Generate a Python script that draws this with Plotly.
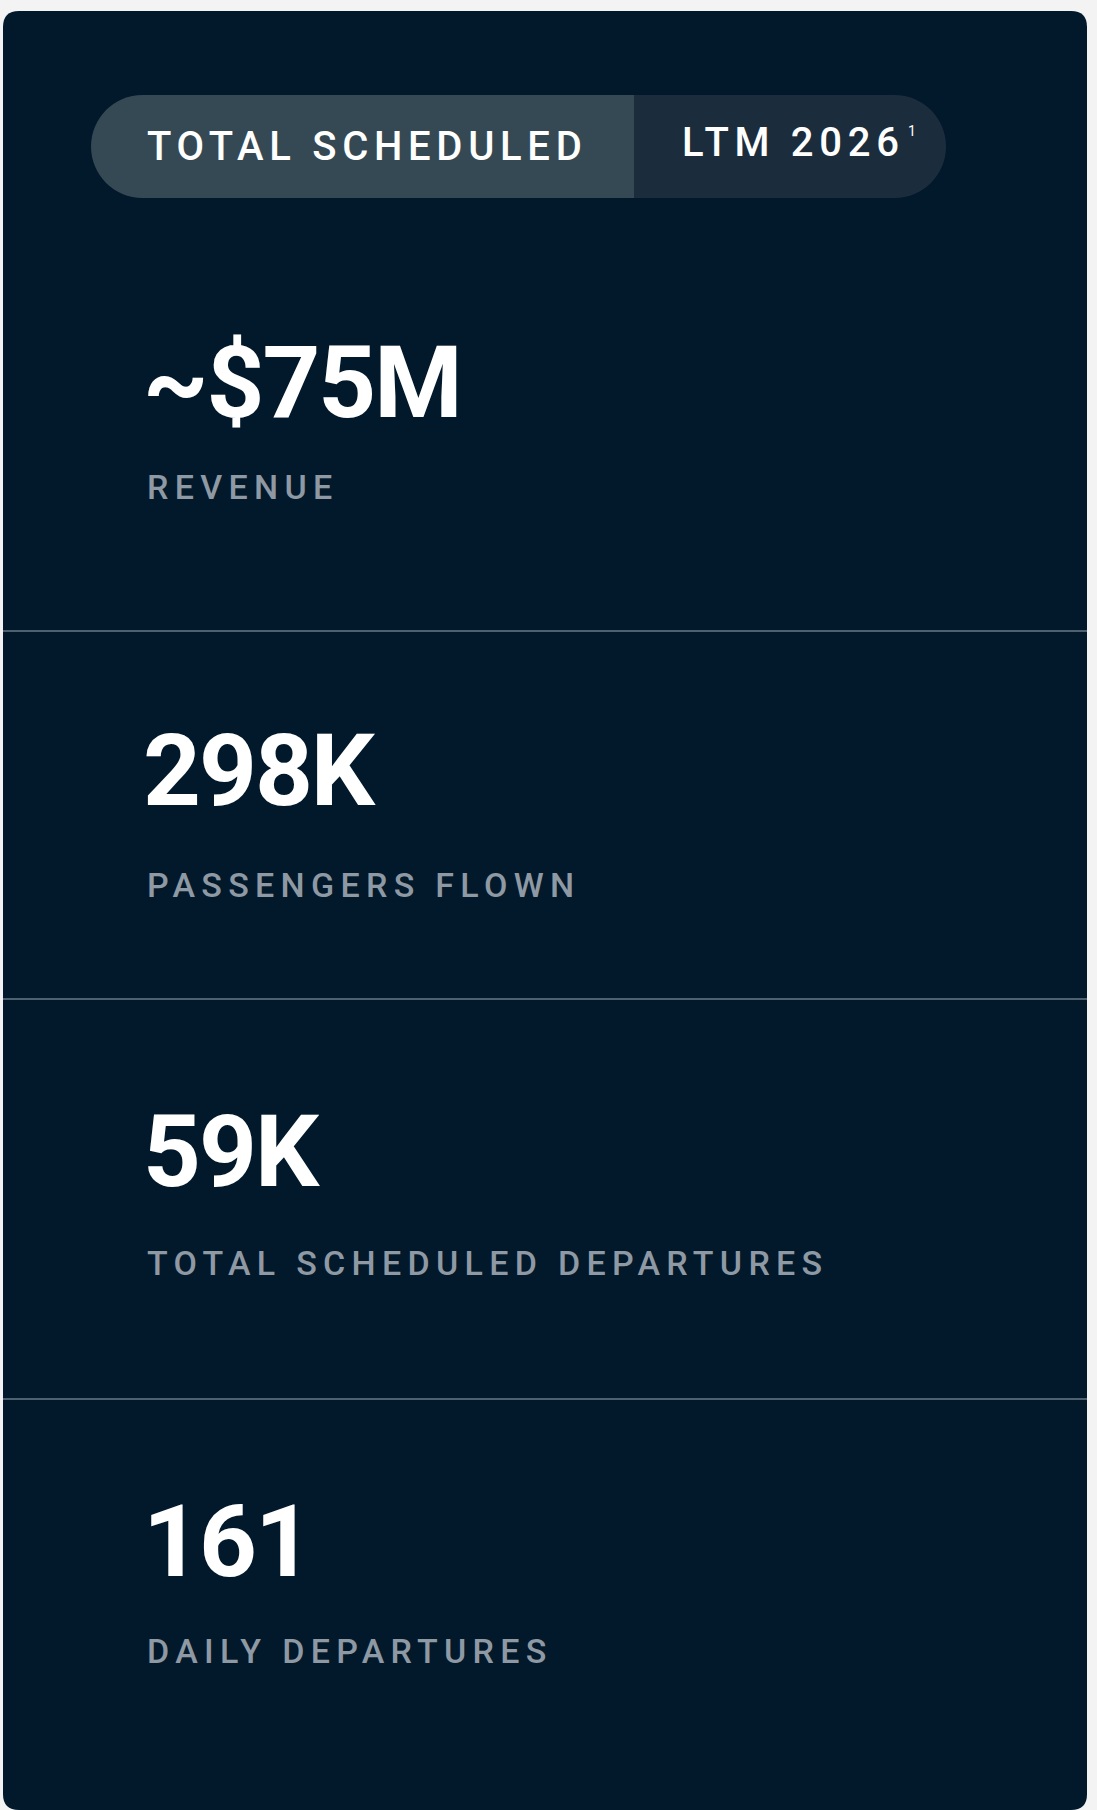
import plotly.graph_objects as go

# ---------------- data ----------------
values = ["~$75M", "298K", "59K", "161"]
labels = ["REVENUE", "PASSENGERS FLOWN", "TOTAL SCHEDULED DEPARTURES", "DAILY DEPARTURES"]
toggle_labels = ["TOTAL SCHEDULED", "LTM 2026"]
toggle_note = "1"

# ---------------- layout (pixels) ----------------
W, H = 1097, 1810
CARD = dict(x0=3, x1=1087, y0=11, y1=1810, r=16)
PILL = dict(x0=91, x1=946, y0=95, y1=198, split=634)
SEP_Y = [631, 999, 1399]
VALUE_Y = [392, 779.5, 1160.5, 1551]
LABEL_Y = [490.5, 888, 1266.5, 1654]
VALUE_X = 143
LABEL_X = 147
TOGGLE_X = [147, 682]
TOGGLE_Y = [149.5, 146]
NOTE_XY = (908, 132)

# ---------------- colours ----------------
PAGE_BG = "#f3f3f3"
CARD_BG = "#02182b"
PILL_ON = "#354954"
PILL_OFF = "#1b2d3c"
SEP_COL = "#4f606e"
LABEL_COL = "#8e99a3"
WHITE = "#ffffff"
FONT = "Roboto"


def card_path(c):
    x0, x1, y0, y1, r = c["x0"], c["x1"], c["y0"], c["y1"], c["r"]
    return (f"M {x0+r},{y0} H {x1-r} Q {x1},{y0} {x1},{y0+r} V {y1-r} "
            f"Q {x1},{y1} {x1-r},{y1} H {x0+r} Q {x0},{y1} {x0},{y1-r} "
            f"V {y0+r} Q {x0},{y0} {x0+r},{y0} Z")


def pill_paths(p):
    x0, x1, y0, y1, s = p["x0"], p["x1"], p["y0"], p["y1"], p["split"]
    R = (y1 - y0) / 2
    ym = (y0 + y1) / 2
    k = 0.5523 * R
    cl = x0 + R
    cr = x1 - R
    left = (f"M {s},{y0} H {cl} C {cl-k},{y0} {x0},{ym-k} {x0},{ym} "
            f"C {x0},{ym+k} {cl-k},{y1} {cl},{y1} H {s} Z")
    right = (f"M {s},{y0} H {cr} C {cr+k},{y0} {x1},{ym-k} {x1},{ym} "
             f"C {x1},{ym+k} {cr+k},{y1} {cr},{y1} H {s} Z")
    return left, right


shapes = [dict(type="path", path=card_path(CARD), fillcolor=CARD_BG,
               line=dict(width=0), layer="below")]
lp, rp = pill_paths(PILL)
shapes.append(dict(type="path", path=lp, fillcolor=PILL_ON, line=dict(width=0), layer="below"))
shapes.append(dict(type="path", path=rp, fillcolor=PILL_OFF, line=dict(width=0), layer="below"))
for y in SEP_Y:
    shapes.append(dict(type="line", x0=CARD["x0"], x1=CARD["x1"], y0=y, y1=y,
                       line=dict(color=SEP_COL, width=2), layer="below"))


def spaced(t, px):
    return f'<span style="letter-spacing:{px}px">{t}</span>'


fig = go.Figure()

# big values
fig.add_trace(go.Scatter(
    x=[VALUE_X] * len(values), y=VALUE_Y, text=[spaced(v, -2) for v in values],
    mode="text", textposition="middle right",
    textfont=dict(family=FONT, size=101, color=WHITE, weight=700),
    hoverinfo="skip"))

# labels
fig.add_trace(go.Scatter(
    x=[LABEL_X] * len(labels), y=LABEL_Y, text=[spaced(l, 6.3) for l in labels],
    mode="text", textposition="middle right",
    textfont=dict(family=FONT, size=34, color=LABEL_COL, weight=500),
    hoverinfo="skip"))

# toggle labels
fig.add_trace(go.Scatter(
    x=TOGGLE_X, y=TOGGLE_Y, text=[spaced(t, 5.7) for t in toggle_labels],
    mode="text", textposition="middle right",
    textfont=dict(family=FONT, size=40, color=WHITE, weight=500),
    hoverinfo="skip"))

# footnote marker
fig.add_trace(go.Scatter(
    x=[NOTE_XY[0]], y=[NOTE_XY[1]], text=[toggle_note], mode="text",
    textposition="middle right",
    textfont=dict(family=FONT, size=14, color=WHITE, weight=400),
    hoverinfo="skip"))

fig.update_layout(
    width=W, height=H, autosize=False,
    margin=dict(l=0, r=0, t=0, b=0, pad=0),
    paper_bgcolor=PAGE_BG, plot_bgcolor=PAGE_BG,
    showlegend=False, shapes=shapes,
    xaxis=dict(range=[0, W], visible=False, fixedrange=True),
    yaxis=dict(range=[H, 0], visible=False, fixedrange=True),
)

fig.write_html("out.html", config={"displayModeBar": False},
               post_script="document.body.style.margin='0';document.body.style.overflow='hidden';")
